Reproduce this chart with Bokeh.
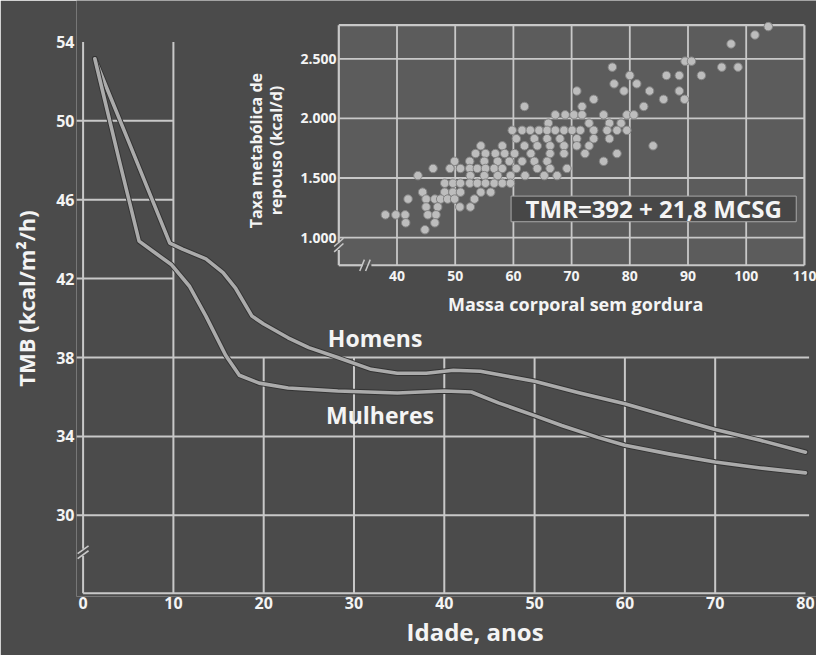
from bokeh.plotting import figure
from bokeh.models import Range1d, FixedTicker, Title
from bokeh.core.properties import value
from bokeh.embed import file_html
from bokeh.resources import INLINE
import math

# ---------------- data ----------------
age_ticks = [0, 10, 20, 30, 40, 50, 60, 70, 80]
tmb_ticks = [30, 34, 38, 42, 46, 50, 54]

homens_age = [1.3, 5.0, 9.6, 11.0, 13.6, 15.5, 16.9, 18.7, 20.0, 22.7, 25.0, 28.2,
              31.9, 34.8, 38.0, 41.0, 44.0, 47.0, 50.0, 55.0, 60.0, 65.0, 70.0, 75.0, 80.0]
homens_tmb = [53.15, 49.0, 43.8, 43.5, 43.0, 42.3, 41.5, 40.1, 39.7, 39.0, 38.5, 38.0,
              37.4, 37.2, 37.2, 37.35, 37.3, 37.05, 36.8, 36.2, 35.65, 35.0, 34.35, 33.8, 33.2]

mulheres_age = [1.3, 4.0, 6.2, 8.0, 9.8, 11.8, 13.6, 15.8, 17.3, 19.5, 22.7, 28.2,
                34.8, 40.0, 43.0, 46.0, 50.0, 53.0, 57.0, 60.0, 65.0, 70.0, 75.0, 80.0]
mulheres_tmb = [53.15, 48.0, 43.9, 43.3, 42.7, 41.6, 40.1, 38.1, 37.1, 36.7, 36.45, 36.3,
                36.2, 36.3, 36.25, 35.7, 35.05, 34.55, 33.95, 33.55, 33.1, 32.7, 32.4, 32.15]

series_names = ["Homens", "Mulheres"]

# inset: lean body mass (kg) vs resting metabolic rate (kcal/d)
lbm_kg = [103.8, 101.5, 97.4, 89.5, 90.6, 95.8, 98.6, 77.0,
          80.0, 86.3, 88.5, 92.3, 77.3, 81.2,
          70.9, 79.0, 83.4, 88.5, 73.8, 85.8, 89.4, 61.9, 71.8, 82.4,
          67.2, 68.9, 70.4, 71.8, 75.5, 79.5, 80.7,
          66.0, 73.0, 76.5, 78.5,
          59.8, 61.5, 62.9, 64.4, 65.8, 67.2, 68.7, 70.1, 71.5, 73.8, 76.1, 77.8, 79.5,
          60.5, 63.6, 65.8, 68.0, 70.9, 73.8, 76.5,
          54.4, 58.1, 61.9, 64.1, 66.3, 68.7, 70.9, 73.0, 84.0,
          53.5, 55.2, 56.9, 58.5, 60.2, 63.0, 66.3, 68.7, 72.3, 77.8,
          49.9, 52.5, 55.0, 57.3, 59.3, 61.5, 63.6, 65.8, 75.5,
          46.2, 49.1, 50.9, 52.5, 53.8, 55.2, 56.7, 58.1, 60.5, 64.1, 66.3, 69.2,
          43.6, 52.6, 55.0, 57.3, 59.5, 62.0, 65.3, 67.5,
          48.2, 49.6, 50.9, 52.5, 53.8, 55.2, 56.7, 58.1, 59.5,
          44.4, 48.2, 49.6, 50.9, 54.4, 56.1,
          41.9, 45.0, 46.5, 47.5, 48.7, 49.9, 53.3,
          45.0, 47.0, 50.8, 52.6,
          38.0, 39.8, 41.4, 45.3, 46.7,
          41.5, 46.5,
          44.8]
rmr_kcal = [2770, 2700, 2625, 2480, 2480, 2430, 2430, 2430,
            2360, 2360, 2360, 2360, 2290, 2290,
            2230, 2230, 2230, 2230, 2160, 2160, 2160, 2100, 2100, 2100,
            2030, 2030, 2030, 2030, 2030, 2030, 2030,
            1960, 1960, 1960, 1960,
            1900, 1900, 1900, 1900, 1900, 1900, 1900, 1900, 1900, 1900, 1900, 1900, 1900,
            1830, 1830, 1830, 1830, 1830, 1830, 1830,
            1770, 1770, 1770, 1770, 1770, 1770, 1770, 1770, 1770,
            1705, 1705, 1705, 1705, 1705, 1705, 1705, 1705, 1705, 1705,
            1640, 1640, 1640, 1640, 1640, 1640, 1640, 1640, 1640,
            1580, 1580, 1580, 1580, 1580, 1580, 1580, 1580, 1580, 1580, 1580, 1580,
            1520, 1520, 1520, 1520, 1520, 1520, 1520, 1520,
            1456, 1456, 1456, 1456, 1456, 1456, 1456, 1456, 1456,
            1381, 1381, 1381, 1381, 1381, 1381,
            1323, 1323, 1323, 1323, 1323, 1323, 1323,
            1257, 1257, 1257, 1257,
            1191, 1191, 1191, 1191, 1191,
            1124, 1124,
            1066]

inset_x_ticks = [40, 50, 60, 70, 80, 90, 100, 110]
inset_y_ticks = [1000, 1500, 2000, 2500]
inset_y_labels = ["1.000", "1.500", "2.000", "2.500"]
equation = "TMR=392 + 21,8 MCSG"

# ---------------- styling ----------------
BG = "#4b4b4b"
INSET_BG = "#5c5c5c"
GRID = "#c8c8c8"
TXT = "#f4f4f4"
FONT = "Open Sans"

p = figure(width=816, height=655, output_backend="svg", toolbar_location=None,
           x_range=Range1d(-0.731, 81.22), y_range=Range1d(25.88, 56.104),
           min_border_left=76, min_border_right=0, min_border_top=0, min_border_bottom=59)
p.background_fill_color = BG
p.border_fill_color = BG
p.outline_line_color = None
p.grid.visible = False
p.title.visible = False

IX, IY = "ix", "iy"
p.extra_x_ranges = {IX: Range1d(-15.07, 112.08)}
p.extra_y_ranges = {IY: Range1d(-2010.9, 2989.1)}

# axes (labels only)
for ax in (p.xaxis[0], p.yaxis[0]):
    ax.axis_line_color = None
    ax.major_tick_line_color = None
    ax.minor_tick_line_color = None
    ax.major_tick_out = 0
    ax.major_tick_in = 0
    ax.major_label_text_color = TXT
    ax.major_label_text_font = FONT
    ax.major_label_text_font_style = "bold"
    ax.major_label_text_font_size = "16px"
p.xaxis.ticker = FixedTicker(ticks=age_ticks)
p.yaxis.ticker = FixedTicker(ticks=tmb_ticks)
p.xaxis.major_label_standoff = 0
p.yaxis.major_label_standoff = 2
p.yaxis.axis_label = "TMB (kcal/m²/h)"
p.yaxis.axis_label_text_font = FONT
p.yaxis.axis_label_text_font_style = "bold"
p.yaxis.axis_label_text_font_size = "22px"
p.yaxis.axis_label_text_color = TXT
p.yaxis.axis_label_standoff = 12

p.add_layout(Title(text="Idade, anos", align="left", offset=330, standoff=2,
                   text_font=FONT, text_font_style="bold", text_font_size="24px",
                   text_color=TXT), "below")

# ---------------- main grid ----------------
x_min, x_max = age_ticks[0], age_ticks[-1]
y_axis = 26.04
hx0, hx1, hy = [], [], []
for t in tmb_ticks[:-1]:
    hy.append(t)
    hx0.append(-0.75)
    hx1.append(10 if t > 38 else x_max + 0.4)
p.segment(x0=hx0, y0=hy, x1=hx1, y1=hy, line_color=GRID, line_width=2)
# verticals
vx = [t for t in age_ticks if 0 < t < 80]
vtop = [tmb_ticks[-1] if t <= 10 else 38 for t in vx]
p.segment(x0=vx, y0=[y_axis] * len(vx), x1=vx, y1=vtop, line_color=GRID, line_width=2)
# y axis line with break
p.segment(x0=[0, 0], y0=[y_axis, 28.3], x1=[0, 0], y1=[27.95, tmb_ticks[-1]],
          line_color=GRID, line_width=2)
p.segment(x0=[-0.6, -0.6], y0=[27.8, 28.05], x1=[0.6, 0.6], y1=[28.2, 28.45],
          line_color=GRID, line_width=1.6)
# x axis line
p.segment(x0=[x_min], y0=[y_axis], x1=[x_max], y1=[y_axis], line_color=GRID, line_width=2)

# ---------------- curves ----------------
for xs, ys in ((homens_age, homens_tmb), (mulheres_age, mulheres_tmb)):
    p.line(xs, ys, line_color="#333333", line_width=5.5, line_join="round", line_cap="round")
    p.line(xs, ys, line_color="#ababab", line_width=3.6, line_join="round", line_cap="round")

p.text(x=[27.1, 26.9], y=[39.0, 35.1], text=series_names, text_color=TXT,
       text_font=value(FONT), text_font_style="bold", text_font_size="23px",
       text_align="left", text_baseline="middle")

# ---------------- inset ----------------
ix0, ix1 = 30, 110
iy0, iy1 = 768, 2782
p.quad(left=[ix0], right=[ix1], bottom=[iy0], top=[iy1], fill_color=INSET_BG,
       line_color=None, x_range_name=IX, y_range_name=IY)
gx = inset_x_ticks[:-1]
p.segment(x0=gx, y0=[iy0] * len(gx), x1=gx, y1=[iy1] * len(gx), line_color=GRID,
          line_width=1.8, x_range_name=IX, y_range_name=IY)
p.segment(x0=[ix0] * 4, y0=inset_y_ticks, x1=[ix1] * 4, y1=inset_y_ticks, line_color=GRID,
          line_width=1.8, x_range_name=IX, y_range_name=IY)
# frame with breaks
p.segment(x0=[ix0, ix1, ix0, ix0, ix0, 35.6],
          y0=[iy1, iy0, iy0, 960, iy0, iy0],
          x1=[ix1, ix1, ix0, ix0, 34.1, ix1],
          y1=[iy1, iy1, 895, iy1, iy0, iy0],
          line_color=GRID, line_width=2.2, x_range_name=IX, y_range_name=IY)
p.segment(x0=[29.2, 29.2], y0=[880, 925], x1=[30.8, 30.8], y1=[950, 995],
          line_color=GRID, line_width=1.5, x_range_name=IX, y_range_name=IY)
p.segment(x0=[33.6, 34.6], y0=[720, 720], x1=[34.4, 35.4], y1=[815, 815],
          line_color=GRID, line_width=1.5, x_range_name=IX, y_range_name=IY)

p.scatter(lbm_kg, rmr_kcal, size=8.5, fill_color="#bdbdbd", line_color="#838383",
          line_width=1, x_range_name=IX, y_range_name=IY)

# equation box
p.quad(left=[59.6], right=[108.6], bottom=[1133], top=[1348], fill_color="#474747",
       line_color="#a8a8a8", line_width=1, x_range_name=IX, y_range_name=IY)
p.text(x=[84.1], y=[1240], text=[equation], text_color=TXT, text_font=value(FONT),
       text_font_style="bold", text_font_size="24px", text_align="center",
       text_baseline="middle", x_range_name=IX, y_range_name=IY)

# inset tick labels
p.text(x=inset_x_ticks, y=[677] * len(inset_x_ticks), text=[str(t) for t in inset_x_ticks],
       text_color=TXT, text_font=value(FONT), text_font_style="bold", text_font_size="14px",
       text_align="center", text_baseline="middle", x_range_name=IX, y_range_name=IY)
p.text(x=[29.6] * 4, y=inset_y_ticks, text=inset_y_labels,
       text_color=TXT, text_font=value(FONT), text_font_style="bold", text_font_size="14px",
       text_align="right", text_baseline="middle", x_range_name=IX, y_range_name=IY)
p.text(x=[70.7], y=[444], text=["Massa corporal sem gordura"], text_color=TXT,
       text_font=value(FONT), text_font_style="bold", text_font_size="18px",
       text_align="center", text_baseline="middle", x_range_name=IX, y_range_name=IY)
p.text(x=[15.8, 19.2], y=[1730, 1730], text=["Taxa metabólica de", "repouso (kcal/d)"],
       angle=math.pi / 2, text_color=TXT, text_font=value(FONT), text_font_style="bold",
       text_font_size="16px", text_align="center", text_baseline="middle",
       x_range_name=IX, y_range_name=IY)

open("out.html", "w").write(file_html(p, INLINE))
